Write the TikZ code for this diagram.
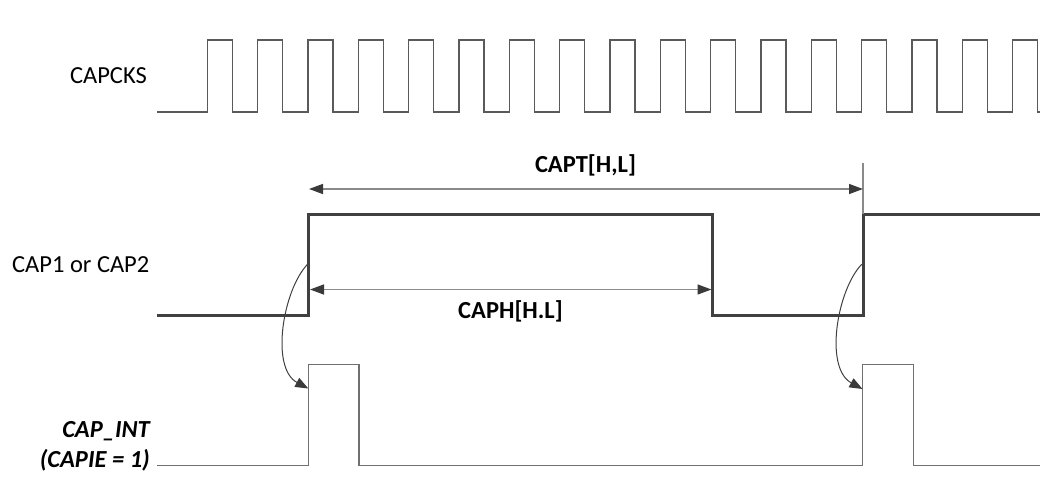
\documentclass[tikz,border=0pt]{standalone}
\usepackage{fontspec}
\setmainfont{Carlito}
\usetikzlibrary{arrows.meta}
\definecolor{clk}{HTML}{5A5A5A}
\definecolor{sig}{HTML}{404040}
\definecolor{thin}{HTML}{707070}
\definecolor{dim}{HTML}{8A8A8A}
\definecolor{tipc}{HTML}{3A3A3A}
\tikzset{
  lbl/.style={font=\fontsize{24.5}{29}\selectfont, inner sep=0pt, text=black},
  blbl/.style={lbl, font=\fontsize{24.5}{29}\selectfont\bfseries},
  bilbl/.style={lbl, font=\fontsize{24.5}{29}\selectfont\bfseries\itshape},
  clkline/.style={draw=clk, line width=1.3pt},
  sigline/.style={draw=sig, line width=3pt, line join=miter},
  intline/.style={draw=thin, line width=1.3pt},
  dimline/.style={draw=dim, line width=1.4pt},
  dimarrow/.style={dimline, {Triangle[length=14pt,width=10pt,color=tipc]}-{Triangle[length=14pt,width=10pt,color=tipc]}},
  curvearrow/.style={draw=sig, line width=1pt, -{Triangle[length=13pt,width=10pt,color=tipc]}}
}
\begin{document}
\begin{tikzpicture}[x=1pt,y=-1pt]
\useasboundingbox (0,0) rectangle (1053,482);
% labels
\node[lbl, anchor=base east] (lclk) at (147,83.3) {CAPCKS};
\node[lbl, anchor=base east] (lcap) at (149.5,272.7) {CAP1 or CAP2};
\node[bilbl, anchor=base east] (lint1) at (150,437) {CAP\_INT};
\node[bilbl, anchor=base east] (lint2) at (150,467) {(CAPIE = 1)};
% clock
\draw[clkline] (157,112) foreach \k in {0,...,16} { -- ({207.3+50.33*\k},112) -- ({207.3+50.33*\k},40) -- ({232.3+50.33*\k},40) -- ({232.3+50.33*\k},112) } -- (1040,112);
% CAP signal
\draw[sigline] (157,315.5) -- (308.5,315.5) -- (308.5,214) -- (712.7,214) -- (712.7,315.5) -- (863,315.5) -- (863,214) -- (1040,214);
% CAP_INT
\draw[intline] (157,465.7) -- (308.8,465.7) -- (308.8,364.3) -- (359,364.3) -- (359,465.7) -- (862.8,465.7) -- (862.8,364.3) -- (913.5,364.3) -- (913.5,465.7) -- (1040,465.7);
% dimension markers
\coordinate (tl) at (309,189);
\coordinate (tr) at (863,189);
\coordinate (vtop) at (863,163);
\coordinate (vbot) at (863,214);
\coordinate (hl) at (310,289.5);
\coordinate (hr) at (711.5,289.5);
\draw[dimline] (vtop) -- (vbot);
\draw[dimarrow] (tl) -- (tr);
\draw[dimarrow] (hl) -- (hr);
\node[blbl, anchor=base] (capt) at (585.5,172) {CAPT[H,L]};
\node[blbl, anchor=base] (caph) at (510.5,318) {CAPH[H.L]};
% curved arrows
\coordinate (s1) at (307.5,264.3);
\coordinate (e1) at (308.3,388.5);
\coordinate (s2) at (861.7,264.3);
\coordinate (e2) at (862.5,389);
\draw[curvearrow] (s1) .. controls (283,290) and (270,368) .. (e1);
\draw[curvearrow] (s2) .. controls (837,290) and (824,368) .. (e2);
\end{tikzpicture}
\end{document}
